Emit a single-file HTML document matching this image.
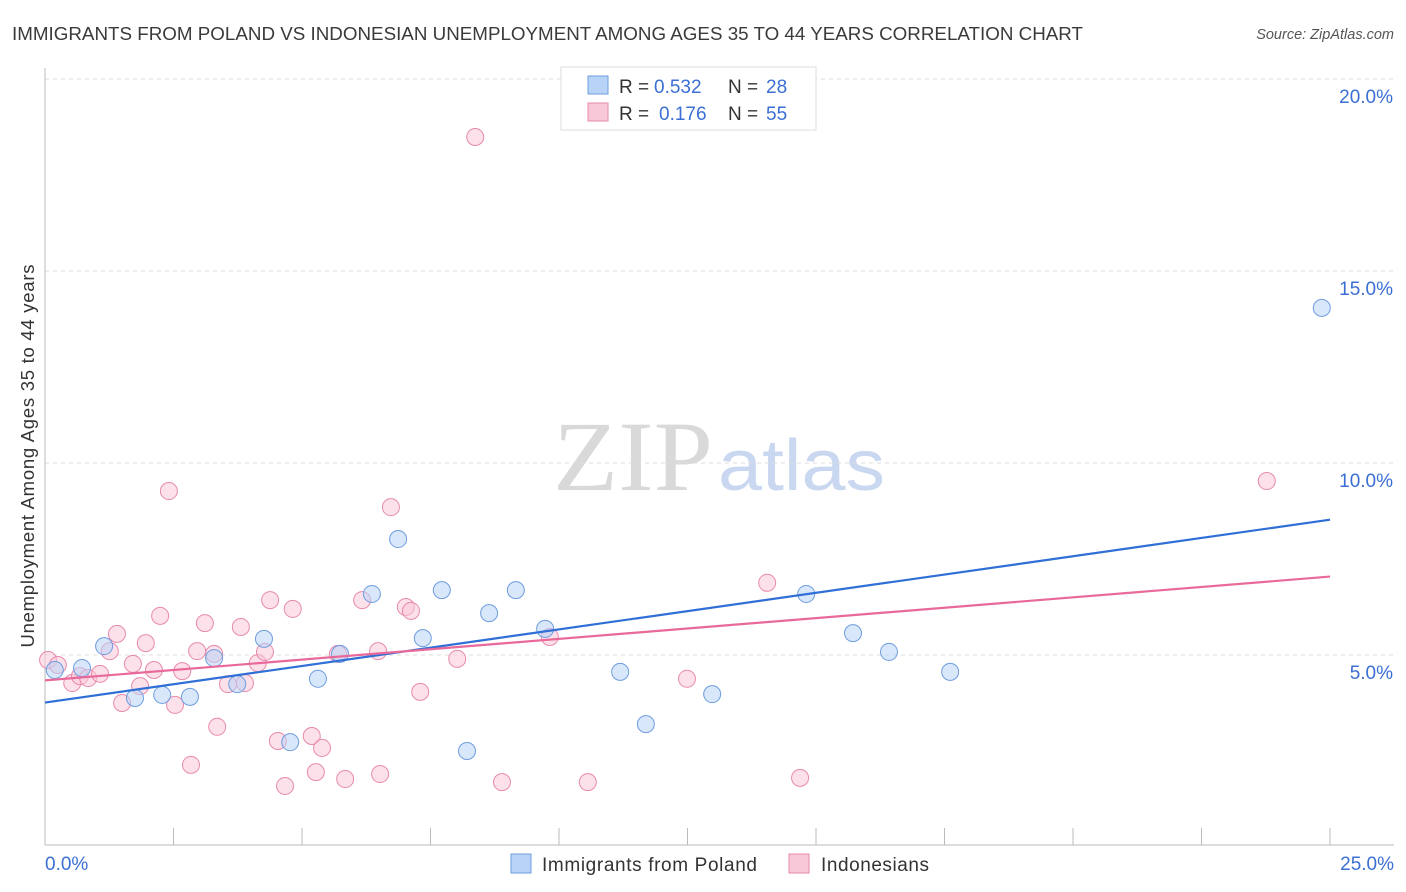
<!DOCTYPE html>
<html><head><meta charset="utf-8"><style>
body{margin:0;background:#fff;font-family:"Liberation Sans",sans-serif;}
#wrap{position:relative;width:1406px;height:892px;overflow:hidden;}
</style></head><body>
<div id="wrap">
<svg id="svg" width="1406" height="892" xmlns="http://www.w3.org/2000/svg" font-family="Liberation Sans, sans-serif">
<text x="12" y="40" font-size="18" textLength="1071" lengthAdjust="spacingAndGlyphs" fill="#3a3a3a">IMMIGRANTS FROM POLAND VS INDONESIAN UNEMPLOYMENT AMONG AGES 35 TO 44 YEARS CORRELATION CHART</text>
<text x="1394" y="39" font-size="14.5" fill="#555" text-anchor="end" font-style="italic">Source: ZipAtlas.com</text>
<text x="553" y="490" font-size="100" textLength="160" lengthAdjust="spacingAndGlyphs" fill="#d9d9d9" font-family="Liberation Serif, serif">ZIP</text>
<text x="718" y="490" font-size="72" textLength="167" lengthAdjust="spacingAndGlyphs" fill="#c9d8f0">atlas</text>
<text transform="translate(34,456) rotate(-90)" font-size="18.5" textLength="383" fill="#333" text-anchor="middle">Unemployment Among Ages 35 to 44 years</text>
<g id="grid"></g><g id="marks"></g>
<g font-size="19">
<rect x="561" y="67" width="255" height="63" fill="#fff" stroke="#ddd"/>
<rect x="588" y="76" width="20" height="18" fill="#b8d3f5" stroke="#6e9de0"/>
<text x="619" y="93" fill="#333">R =</text><text x="654" y="93" fill="#3b6fd4">0.532</text>
<text x="728" y="93" fill="#333">N =</text><text x="766" y="93" fill="#3b6fd4">28</text>
<rect x="588" y="103" width="20" height="18" fill="#f9c8d8" stroke="#e88aab"/>
<text x="619" y="120" fill="#333">R =</text><text x="659" y="120" fill="#3b6fd4">0.176</text>
<text x="728" y="120" fill="#333">N =</text><text x="766" y="120" fill="#3b6fd4">55</text>
</g>
<g>
<rect x="511" y="854" width="20" height="19" fill="#b8d3f5" stroke="#6e9de0"/>
<text x="542" y="871" font-size="19" textLength="215" fill="#333">Immigrants from Poland</text>
<rect x="789" y="854" width="20" height="19" fill="#f9c8d8" stroke="#e88aab"/>
<text x="821" y="871" font-size="19" textLength="108" fill="#333">Indonesians</text>
</g>
</svg>
</div>
<script>
const xTicks=[0,25];
const yTicks=[5,10,15,20];
const polandX=[0.19,0.72,1.15,1.75,2.28,2.82,3.29,3.74,4.26,4.77,5.31,5.74,6.36,6.87,7.35,7.72,8.21,8.64,9.16,9.73,11.19,11.69,12.98,14.81,15.72,16.42,17.61,24.84];
const polandY=[4.61,4.66,5.23,3.88,3.96,3.91,4.92,4.24,5.42,2.73,4.38,5.03,6.59,8.02,5.44,6.69,2.50,6.09,6.69,5.68,4.56,3.20,3.98,6.59,5.57,5.08,4.56,14.04];
const indoX=[0.06,0.25,0.53,0.68,0.84,1.07,1.26,1.40,1.50,1.71,1.85,1.96,2.12,2.24,2.41,2.53,2.67,2.84,2.96,3.11,3.29,3.35,3.56,3.81,3.89,4.14,4.28,4.38,4.53,4.67,4.82,5.19,5.27,5.39,5.70,5.84,6.17,6.48,6.52,6.73,7.02,7.12,7.30,8.02,8.37,8.89,9.82,10.56,12.49,14.05,14.69,23.77];
const indoY=[4.87,4.74,4.27,4.45,4.40,4.51,5.10,5.55,3.75,4.77,4.19,5.31,4.61,6.02,9.27,3.70,4.58,2.14,5.10,5.83,5.03,3.13,4.24,5.73,4.27,4.79,5.08,6.43,2.76,1.59,6.20,2.89,1.95,2.58,5.03,1.77,6.43,5.10,1.90,8.85,6.25,6.15,4.04,4.90,18.49,1.69,5.47,1.69,4.38,6.88,1.80,9.53];
const X=v=>45+v*51.4, Y=v=>847-v*38.4;
const NS="http://www.w3.org/2000/svg";
const grid=document.getElementById('grid'),marks=document.getElementById('marks');
function mk(t,a,p){const e=document.createElementNS(NS,t);for(const k in a)e.setAttribute(k,a[k]);p.appendChild(e);return e;}
yTicks.forEach(v=>{const l=mk('line',{x1:45,x2:1394,y1:Y(v),y2:Y(v),stroke:'#ddd','stroke-dasharray':'4,4'},grid);


const t=mk('text',{x:1393,y:Y(v)+24,'font-size':19,fill:'#3b6fd4','text-anchor':'end'},grid);t.textContent=v.toFixed(1)+'%';

});
const ax=mk('line',{x1:45,x2:1394,y1:845,y2:845,stroke:'#bbb'},grid);


const ay=mk('line',{x1:45,x2:45,y1:68,y2:845,stroke:'#bbb'},grid);


for(let i=0;i<=10;i++){const x=X(i*2.5);const t=mk('line',{x1:x,x2:x,y1:828,y2:845,stroke:'#bbb'},grid);

}
xTicks.forEach((v,i)=>{const t=mk('text',{x:i?1394:45,y:870,'font-size':19,fill:'#3b6fd4','text-anchor':i?'end':'start'},grid);t.textContent=v.toFixed(1)+'%';

});
function pts(xs,ys,fill,stroke,name){xs.forEach((x,i)=>{const c=mk('circle',{cx:X(x),cy:Y(ys[i]),r:8.5,fill:fill,'fill-opacity':0.55,stroke:stroke,'stroke-width':1},marks);

});}
function reg(xs,ys){const n=xs.length;let sx=0,sy=0,sxx=0,sxy=0;for(let i=0;i<n;i++){sx+=xs[i];sy+=ys[i];sxx+=xs[i]*xs[i];sxy+=xs[i]*ys[i];}const b=(n*sxy-sx*sy)/(n*sxx-sx*sx);return[(sy-b*sx)/n,b];}
pts(indoX,indoY,'#f9c8d8','#e88aab','indonesians-point');
pts(polandX,polandY,'#b8d3f5','#6e9de0','poland-point');
[[polandX,polandY,'#2f6fd6','poland-trend-line'],[indoX,indoY,'#e8699a','indonesians-trend-line']].forEach(([xs,ys,col,nm])=>{const [a,b]=reg(xs,ys);
const l=mk('line',{x1:X(0),y1:Y(a),x2:X(25),y2:Y(a+b*25),stroke:col,'stroke-width':2.2},marks);

});
</script>
</body></html>
